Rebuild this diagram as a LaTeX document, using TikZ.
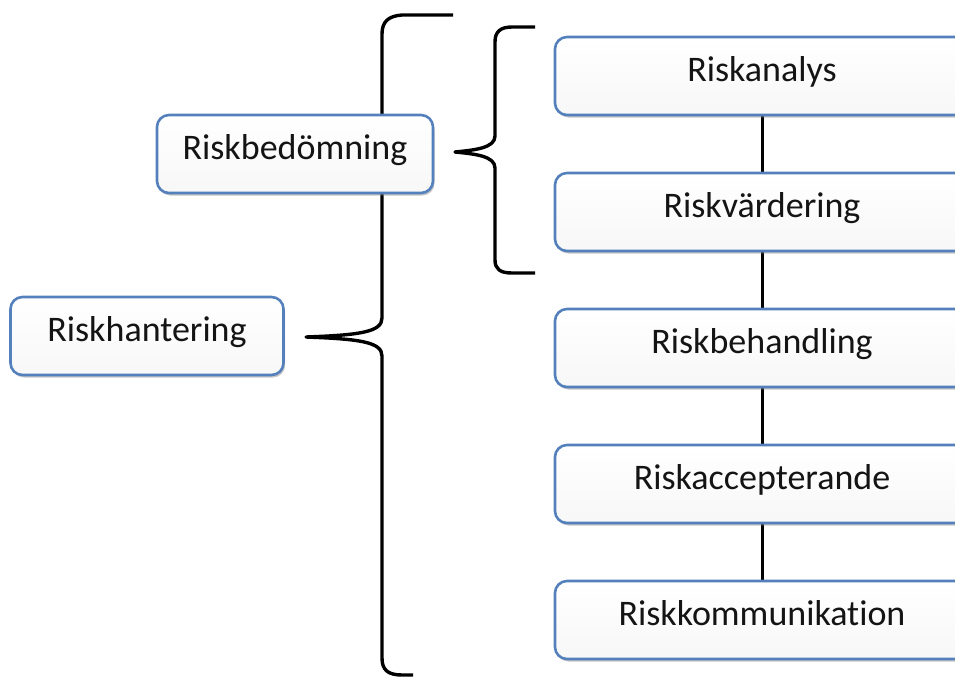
\documentclass[tikz,border=0pt]{standalone}
\usepackage{fontspec}
\setmainfont{Carlito}[Ligatures={NoCommon}]
\usetikzlibrary{shadows}
\pgfdeclarelayer{background}
\pgfsetlayers{background,main}
\definecolor{boxblue}{RGB}{84,128,188}
\tikzset{
  box/.style={draw=boxblue, line width=2.6pt, rounded corners=12pt,
    top color=white, bottom color=black!3,
    drop shadow={opacity=0.45, shadow xshift=1.5pt, shadow yshift=-2.5pt},
    inner xsep=0pt, inner ysep=0pt, text height=44pt, text depth=34pt,
    font=\fontsize{36}{40}\selectfont, text=black!92},
  wide/.style={box, minimum width=414pt},
  link/.style={line width=3pt, black},
  brace/.style={line width=3.4pt, black, line join=round}
}
\begin{document}
\begin{tikzpicture}[x=1pt, y=-1pt]
\clip (0,0) rectangle (955,680);
\useasboundingbox (0,0) rectangle (955,680);
% right column
\node[wide] (ana) at (762,76) {Riskanalys};
\node[wide] (var) at (762,212) {Riskvärdering};
\node[wide] (beh) at (762,348) {Riskbehandling};
\node[wide] (acc) at (762,484) {Riskaccepterande};
\node[wide] (kom) at (762,620) {Riskkommunikation};
% left boxes
\node[box, minimum width=276pt] (bed) at (295,154) {Riskbedömning};
\node[box, minimum width=273pt] (han) at (147,336) {Riskhantering};
\begin{pgfonlayer}{background}
\draw[link] (ana.south) -- (var.north);
\draw[link] (var.south) -- (beh.north);
\draw[link] (beh.south) -- (acc.north);
\draw[link] (acc.south) -- (kom.north);
% big brace
\coordinate (bigtip) at (306,337);
\draw[brace] (453,15) -- (402,15) .. controls (388,16) and (382,22) .. (382,34)
  -- (382,318) .. controls (382,332) and (360,335) .. (bigtip)
  .. controls (360,339) and (382,342) .. (382,356)
  -- (382,658) .. controls (382,670) and (388,675) .. (402,675) -- (413,675);
% small brace
\coordinate (smalltip) at (455,152);
\draw[brace] (535,27) -- (512,27) .. controls (500,27) and (495,32) .. (495,42)
  -- (495,136) .. controls (495,148) and (475,150) .. (smalltip)
  .. controls (475,154) and (495,156) .. (495,168)
  -- (495,260) .. controls (495,269) and (500,273) .. (512,273) -- (535,273);
\end{pgfonlayer}
\end{tikzpicture}
\end{document}
